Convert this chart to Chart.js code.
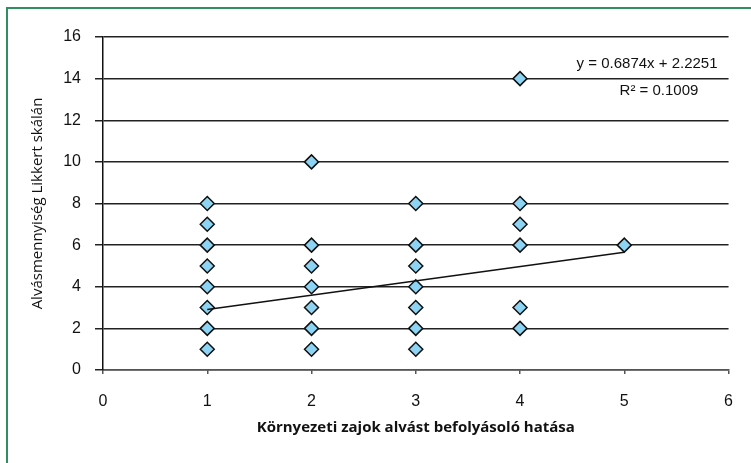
<!DOCTYPE html>
<html>
<head>
<meta charset="utf-8">
<script src="https://cdn.jsdelivr.net/npm/chart.js@4"></script>
<style>
    html, body { margin: 0; padding: 0; background: #fff; }
    #wrap { width: 751px; height: 463px; }
</style>
</head>
<body>
<div id="wrap"><canvas id="chart" width="751" height="463"></canvas></div>
<script>
// scatter points
const pointX = [1, 1, 1, 1, 1, 1, 1, 1,
                2, 2, 2, 2, 2, 2, 2,
                3, 3, 3, 3, 3, 3, 3,
                4, 4, 4, 4, 4, 4,
                5];
const pointY = [1, 2, 3, 4, 5, 6, 7, 8,
                1, 2, 3, 4, 5, 6, 10,
                1, 2, 3, 4, 5, 6, 8,
                2, 3, 6, 7, 8, 14,
                6];

// linear trendline ends
const trendX = [1, 5];
const trendY = [2.91, 5.66];

const equationText = 'y = 0.6874x + 2.2251';
const rSquaredText = 'R² = 0.1009';
const xTitle = 'Környezeti zajok alvást befolyásoló hatása';
const yTitle = 'Alvásmennyiség Likkert skálán';

const tickFont = { family: '"Liberation Sans", Arial, sans-serif', size: 16 };

// green frame + trendline label
const framePlugin = {
    id: 'frame',
    afterDraw(chart) {
        const ctx = chart.ctx;
        const area = chart.chartArea;
        ctx.save();
        ctx.strokeStyle = '#2f8f5f';
        ctx.lineWidth = 2;
        ctx.beginPath();
        ctx.moveTo(7, 463);
        ctx.lineTo(7, 8);
        ctx.lineTo(751, 8);
        ctx.stroke();

        ctx.fillStyle = '#111';
        ctx.font = '15px "Liberation Sans", Arial, sans-serif';
        ctx.textBaseline = 'middle';
        ctx.textAlign = 'right';
        ctx.fillText(equationText, area.right - 11, 64);
        ctx.textAlign = 'center';
        ctx.fillText(rSquaredText, 659, 91);
        ctx.restore();
    }
};

const ctx = document.getElementById('chart').getContext('2d');
new Chart(ctx, {
    type: 'scatter',
    data: {
        datasets: [
            {
                type: 'line',
                data: trendX.map((x, i) => ({ x: x, y: trendY[i] })),
                borderColor: '#111',
                borderWidth: 1.5,
                pointRadius: 0,
                fill: false
            },
            {
                data: pointX.map((x, i) => ({ x: x, y: pointY[i] })),
                pointStyle: 'rectRot',
                pointRadius: 7,
                pointBackgroundColor: '#8dd3f3',
                pointBorderColor: '#111',
                pointBorderWidth: 1.5
            }
        ]
    },
    options: {
        responsive: false,
        animation: false,
        layout: { padding: { left: 0, right: 18, top: 37, bottom: 0 } },
        plugins: {
            legend: { display: false },
            tooltip: { enabled: false }
        },
        scales: {
            x: {
                type: 'linear',
                min: 0,
                max: 6,
                ticks: { stepSize: 1, color: '#111', font: tickFont, padding: 18 },
                grid: { drawOnChartArea: false, drawTicks: true, tickLength: 4, color: '#555', lineWidth: 1.5 },
                border: { color: '#555', width: 1.5 },
                title: {
                    display: true,
                    text: xTitle,
                    color: '#111',
                    font: { family: '"Open Sans", sans-serif', size: 15, weight: 'bold' },
                    padding: { top: 0, bottom: 26 }
                },
                afterFit(scale) { scale.height = 93; }
            },
            y: {
                min: 0,
                max: 16,
                ticks: { stepSize: 2, color: '#111', font: tickFont, padding: 14 },
                grid: { color: '#222', lineWidth: 1.5, tickLength: 8 },
                border: { color: '#111', width: 1.5 },
                title: {
                    display: true,
                    text: yTitle,
                    color: '#111',
                    font: { family: '"Open Sans", sans-serif', size: 15 },
                    padding: { top: 29, bottom: 0 }
                },
                afterFit(scale) { scale.width = 103; }
            }
        }
    },
    plugins: [framePlugin]
});
</script>
</body>
</html>
